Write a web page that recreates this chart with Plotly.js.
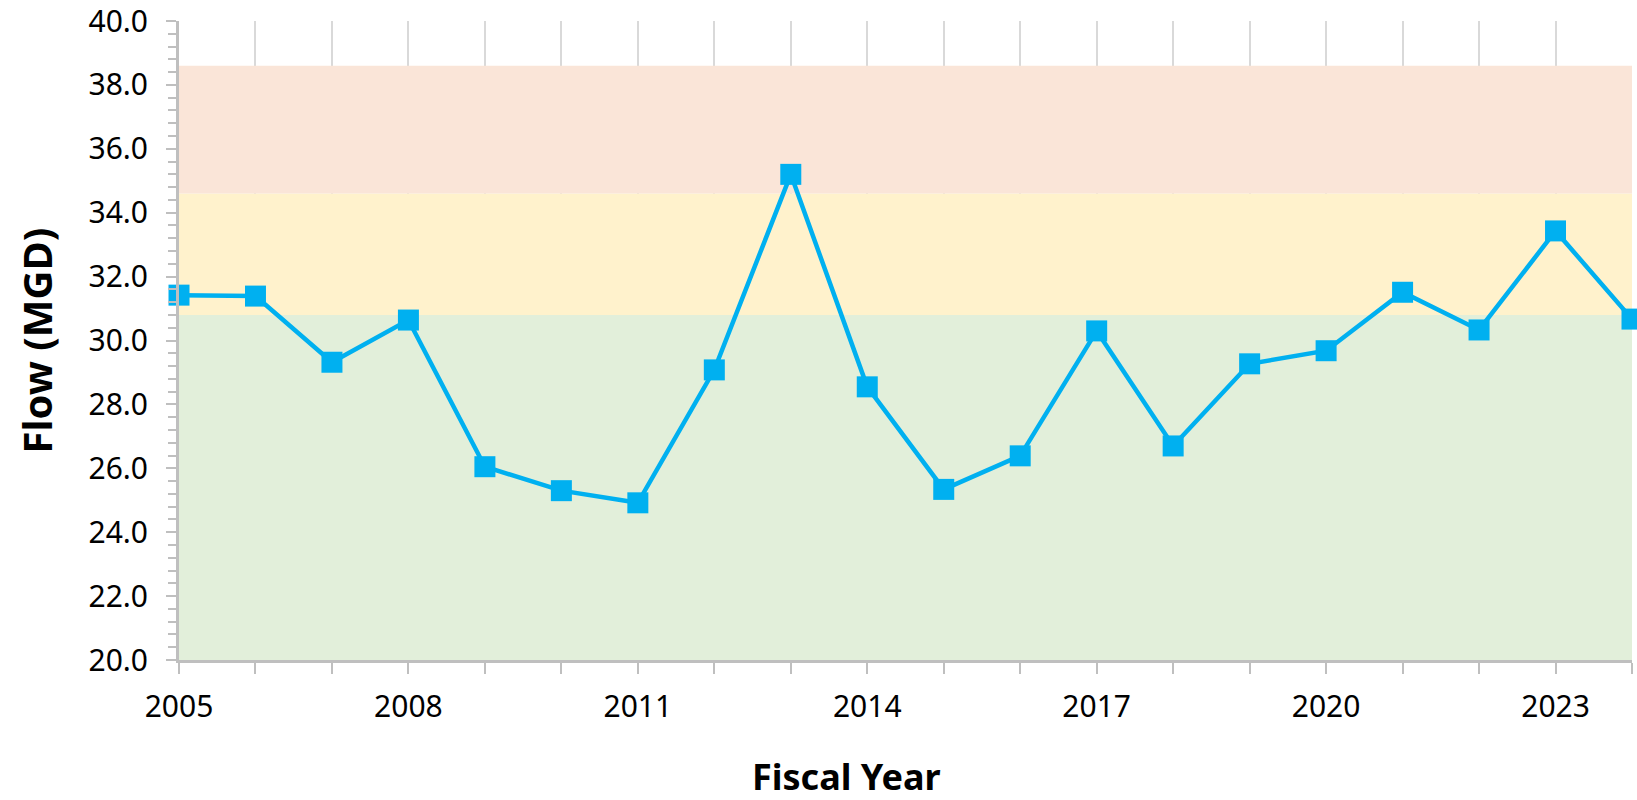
<!DOCTYPE html>
<html>
<head>
<meta charset="utf-8">
<script src="https://cdn.plot.ly/plotly-3.0.1.min.js"></script>
<style>html,body{margin:0;padding:0;background:#fff}#chart{width:1637px;height:800px}</style>
</head>
<body>
<div id="chart"></div>
<script>
// Data
const years = [2005,2006,2007,2008,2009,2010,2011,2012,2013,2014,2015,2016,2017,2018,2019,2020,2021,2022,2023,2024];
const flowMGD = [31.42,31.39,29.32,30.64,26.05,25.30,24.92,29.08,35.20,28.55,25.34,26.39,30.30,26.70,29.27,29.68,31.51,30.33,33.43,30.67];
const xTickLabels = ["2005","","","2008","","","2011","","","2014","","","2017","","","2020","","","2023",""];
const yTickVals = [20,22,24,26,28,30,32,34,36,38,40];
const yTickLabels = ["20.0","22.0","24.0","26.0","28.0","30.0","32.0","34.0","36.0","38.0","40.0"];
// Condition bands (lower, upper) in MGD
const bandLower = [20.0, 30.8, 34.6];
const bandUpper = [30.8, 34.6, 38.6];
const bandColors = ["#E2EFDA", "#FFF2CC", "#FAE5D8"];

const xMin = years[0], xMax = years[years.length - 1];
const bandTraces = bandLower.map((lo, i) => ({
  x: [xMin, xMax, xMax, xMin], y: [lo, lo, bandUpper[i], bandUpper[i]],
  type: "scatter", mode: "lines", fill: "toself", fillcolor: bandColors[i],
  line: {width: 0, color: bandColors[i]}, hoverinfo: "skip", showlegend: false
}));

const trace = {
  x: years, y: flowMGD, type: "scatter", mode: "lines+markers",
  line: {color: "#00B0F0", width: 4.5},
  marker: {symbol: "square", size: 21, color: "#00B0F0"},
  cliponaxis: false, hoverinfo: "x+y"
};

const font = {family: "Noto Sans, Open Sans, DejaVu Sans, sans-serif", color: "#000"};

const layout = {
  width: 1637, height: 800,
  margin: {l: 179, r: 5, t: 21, b: 140},
  paper_bgcolor: "#fff", plot_bgcolor: "#fff",
  showlegend: false,
  font: font,
  xaxis: {
    range: [2005, 2024], tickmode: "array", tickvals: years, ticktext: xTickLabels,
    ticks: "outside", ticklen: 11, tickwidth: 2, tickcolor: "#BFBFBF",
    showgrid: true, gridcolor: "#D9D9D9", gridwidth: 2,
    showline: true, linecolor: "#BFBFBF", linewidth: 3,
    zeroline: false, ticklabelstandoff: 7, ticklabeloverflow: "allow",
    tickfont: {family: font.family, size: 30, color: "#000"}
  },
  yaxis: {
    range: [20, 40], tickmode: "array", tickvals: yTickVals, ticktext: yTickLabels,
    ticks: "outside", ticklen: 10, tickwidth: 2, tickcolor: "#BFBFBF",
    minor: {tickmode: "linear", tick0: 20, dtick: 0.4, ticks: "outside", ticklen: 8, tickwidth: 2, tickcolor: "#BFBFBF", showgrid: false},
    showgrid: true, gridcolor: "#D9D9D9", gridwidth: 2,
    showline: true, linecolor: "#BFBFBF", linewidth: 3,
    zeroline: false, ticklabelstandoff: 12, ticklabeloverflow: "allow",
    tickfont: {family: font.family, size: 30, color: "#000"},
    title: {text: "<b>Flow (MGD)</b>", font: {family: font.family, size: 40, color: "#000"}, standoff: 24}
  },
  annotations: [{
    text: "<b>Fiscal Year</b>", xref: "paper", yref: "paper",
    x: (846 - 179) / (1632 - 179), y: -(776 - 660) / 639, xanchor: "center", yanchor: "middle",
    showarrow: false, font: {family: font.family, size: 36, color: "#000"}
  }]
};

Plotly.newPlot("chart", bandTraces.concat([trace]), layout, {displayModeBar: false, staticPlot: true});
</script>
</body>
</html>
